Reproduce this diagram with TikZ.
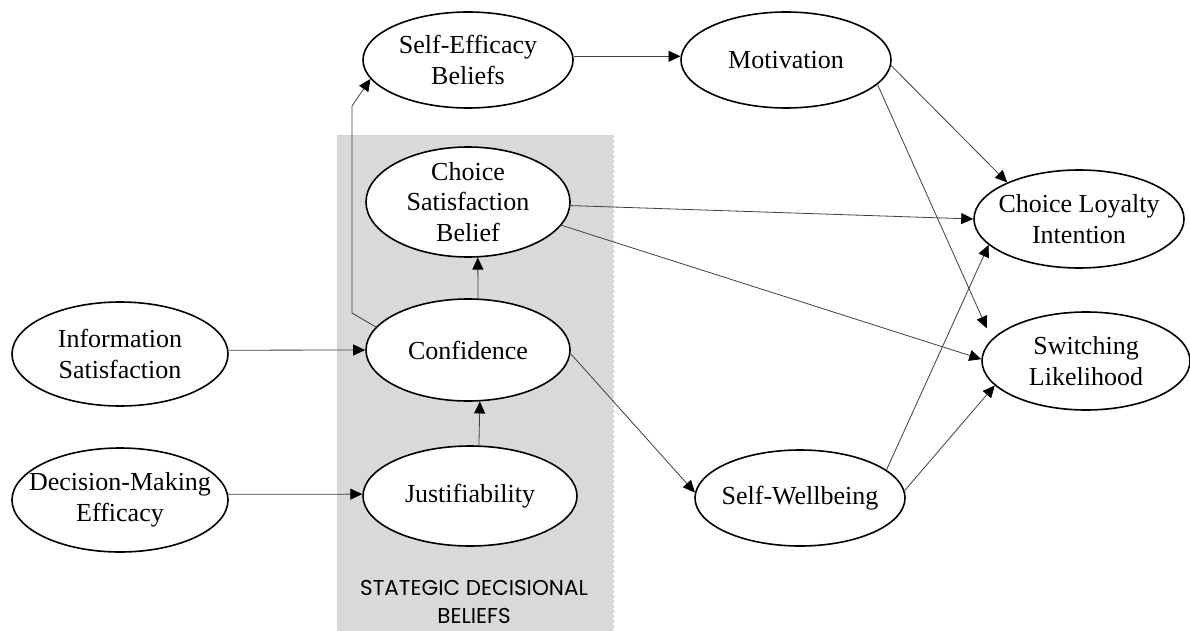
\documentclass[tikz,border=0pt]{standalone}
\usepackage{fontspec}
\setmainfont{Liberation Serif}
\newfontfamily\gothicfont{Poppins}
\usetikzlibrary{shapes.geometric,arrows.meta}
\definecolor{boxgray}{RGB}{217,217,217}
\begin{document}
\begin{tikzpicture}[x=1pt,y=-1pt,
  latent/.style={ellipse, draw=black, line width=1.6pt, fill=white,
    inner xsep=-40pt, inner ysep=-30pt, align=center,
    font=\fontsize{26}{30.5}\selectfont},
  arr/.style={line width=0.8pt, draw=black!75,
    -{Triangle[length=12pt,width=11pt,color=black,fill=black]}},
  groupbox/.style={fill=boxgray, draw=gray!35, line width=0.6pt, dash pattern=on 3pt off 2pt},
  grouplabel/.style={font=\gothicfont\fontsize{21.5}{27.5}\selectfont, align=center, inner sep=0pt}]
\useasboundingbox (0,0) rectangle (1190,631);
\fill[white] (0,0) rectangle (1190,631);
% group box
\draw[groupbox] (337,135) rectangle (613,631);
\node[grouplabel] (lbl) at (474,602) {STATEGIC DECISIONAL\\BELIEFS};
% nodes
\node[latent, minimum width=210pt, minimum height=96pt] (seb) at (468,60) {Self-Efficacy\\Beliefs};
\node[latent, minimum width=210pt, minimum height=96pt] (mot) at (786,60) {Motivation};
\node[latent, minimum width=204pt, minimum height=110pt] (csb) at (468,202) {Choice\\Satisfaction\\Belief};
\node[latent, minimum width=204pt, minimum height=102pt] (conf) at (468,350) {Confidence};
\node[latent, minimum width=214pt, minimum height=100pt] (just) at (470,496) {Justifiability};
\node[latent, minimum width=216pt, minimum height=104pt] (info) at (120,354) {Information\\Satisfaction};
\node[latent, minimum width=216pt, minimum height=104pt] (dme) at (120,500) {Decision-Making\\Efficacy};
\node[latent, minimum width=210pt, minimum height=98pt] (cli) at (1079,219) {Choice Loyalty\\Intention};
\node[latent, minimum width=208pt, minimum height=98pt] (sl) at (1086,361) {Switching\\Likelihood};
\node[latent, minimum width=210pt, minimum height=96pt] (sw) at (800,498) {Self-Wellbeing};
% bend points
\coordinate (k1) at (352,313);
\coordinate (k2) at (352,106);
% connectors
\draw[arr] (seb.2) -- (mot.178);
\draw[arr] (conf.166) -- (k1) -- (k2) -- (seb.191);
\draw[arr] (conf.79) -- (csb.-80);
\draw[arr] (just.80) -- (conf.-77);
\draw[arr] (info.2) -- (conf.west);
\draw[arr] (dme.3) -- (just.179);
\draw[arr] (csb.-2) -- (cli.west);
\draw[arr] (csb.-14) -- (sl.179);
\draw[arr] (conf.-2) -- (sw.177);
\draw[arr] (mot.-3) -- (cli.153);
\draw[arr, shorten >=12pt] (mot.-15) -- (sl.167);
\draw[arr] (sw.18) -- (cli.196);
\draw[arr] (sw.4) -- (sl.195);
\end{tikzpicture}
\end{document}
